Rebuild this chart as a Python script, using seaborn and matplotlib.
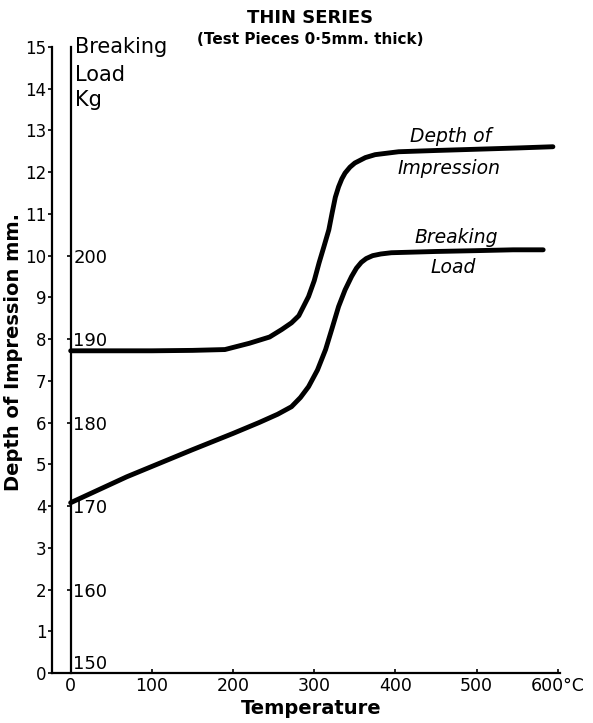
import matplotlib
matplotlib.use("Agg")
import matplotlib.pyplot as plt
import seaborn as sns

# curve readings (temperature in deg C)
depth_temp = [0, 50, 100, 150, 190, 220, 245, 260, 272, 281, 293, 300, 306, 312, 318,
              322, 326, 330, 334, 338, 344, 350, 363, 375, 404, 450, 500, 550, 594]
depth_mm = [7.72, 7.72, 7.72, 7.73, 7.75, 7.9, 8.05, 8.23, 8.39, 8.56, 9.02, 9.4, 9.83,
            10.22, 10.62, 11.02, 11.4, 11.65, 11.84, 11.98, 12.12, 12.22, 12.35, 12.42,
            12.49, 12.52, 12.55, 12.58, 12.61]

load_temp = [0, 69, 150, 200, 232, 255, 272, 283, 293, 304, 314, 322, 330, 338,
             346, 352, 358, 364, 372, 382, 395, 450, 500, 545, 582]
load_kg = [170.4, 173.5, 176.75, 178.7, 180.0, 181.0, 181.9, 183.0, 184.3, 186.3,
           188.75, 191.3, 193.9, 195.9, 197.5, 198.5, 199.2, 199.65, 200.0, 200.2,
           200.35, 200.5, 200.6, 200.7, 200.7]

temp_ticks = [0, 100, 200, 300, 400, 500, 600]
temp_labels = ["0", "100", "200", "300", "400", "500", "600°C"]
depth_ticks = list(range(0, 16))
load_ticks = [150, 160, 170, 180, 190, 200]

sns.set_style("ticks")
plt.rcParams["font.family"] = ["DejaVu Sans"]
plt.rcParams.update({"text.color": "black", "axes.labelcolor": "black",
                     "xtick.color": "black", "ytick.color": "black"})

fig = plt.figure(figsize=(5.93, 7.23), dpi=100)
ax = fig.add_axes([0.0877, 0.0692, 0.857, 0.8658])
ax.set_xlim(-23, 603)
ax.set_ylim(0, 15)

sns.lineplot(x=depth_temp, y=depth_mm, ax=ax, color="black", lw=3.5, sort=False)

ax.set_xticks(temp_ticks)
ax.set_xticklabels(temp_labels, fontsize=12.5)
ax.set_yticks(depth_ticks)
ax.set_yticklabels([str(d) for d in depth_ticks], fontsize=12)
ax.tick_params(axis="x", direction="in", length=3, width=1.2, pad=3)
ax.tick_params(axis="y", direction="out", length=3, width=1.2, pad=1)
for s in ["top", "right"]:
    ax.spines[s].set_visible(False)
for s in ["left", "bottom"]:
    ax.spines[s].set_color("black")
    ax.spines[s].set_linewidth(1.6)

# breaking load axis drawn at T = 0
ax2 = ax.twinx()
ax2.set_ylim(150, 225)
sns.lineplot(x=load_temp, y=load_kg, ax=ax2, color="black", lw=3.5, sort=False)
ax2.spines["right"].set_position(("data", 0))
ax2.spines["right"].set_color("black")
ax2.spines["right"].set_linewidth(1.6)
for s in ["top", "left", "bottom"]:
    ax2.spines[s].set_visible(False)
ax2.set_yticks(load_ticks)
ax2.set_yticklabels([str(v) for v in load_ticks], fontsize=13)
ax2.get_yticklabels()[0].set_va("bottom")
ax2.tick_params(axis="y", direction="in", length=3, width=1.2, pad=2)
ax2.set_xlim(-23, 603)
ax2.set_xlabel("")
ax2.set_ylabel("")

ax.text(5, 15.0, "Breaking", fontsize=15, ha="left", va="center")
ax.text(5, 14.32, "Load", fontsize=15, ha="left", va="center")
ax.text(5, 13.72, "Kg", fontsize=15, ha="left", va="center")

ax.text(468, 12.85, "Depth of", fontsize=13.5, style="italic", ha="center", va="center")
ax.text(466, 12.1, "Impression", fontsize=13.5, style="italic", ha="center", va="center")
ax.text(475, 10.43, "Breaking", fontsize=13.5, style="italic", ha="center", va="center")
ax.text(471, 9.71, "Load", fontsize=13.5, style="italic", ha="center", va="center")

fig.text(310 / 593, 1 - 18 / 723, "THIN SERIES", fontsize=13, fontweight="bold",
         ha="center", va="center")
fig.text(310 / 593, 1 - 39 / 723, "(Test Pieces 0·5mm. thick)", fontsize=11,
         fontweight="bold", ha="center", va="center")
fig.text(14 / 593, 1 - 352 / 723, "Depth of Impression mm.", fontsize=14,
         fontweight="bold", rotation=90, ha="center", va="center")
fig.text(311 / 593, 1 - 708 / 723, "Temperature", fontsize=14, fontweight="bold",
         ha="center", va="center")

fig.savefig("out.png", dpi=100, facecolor="white")
